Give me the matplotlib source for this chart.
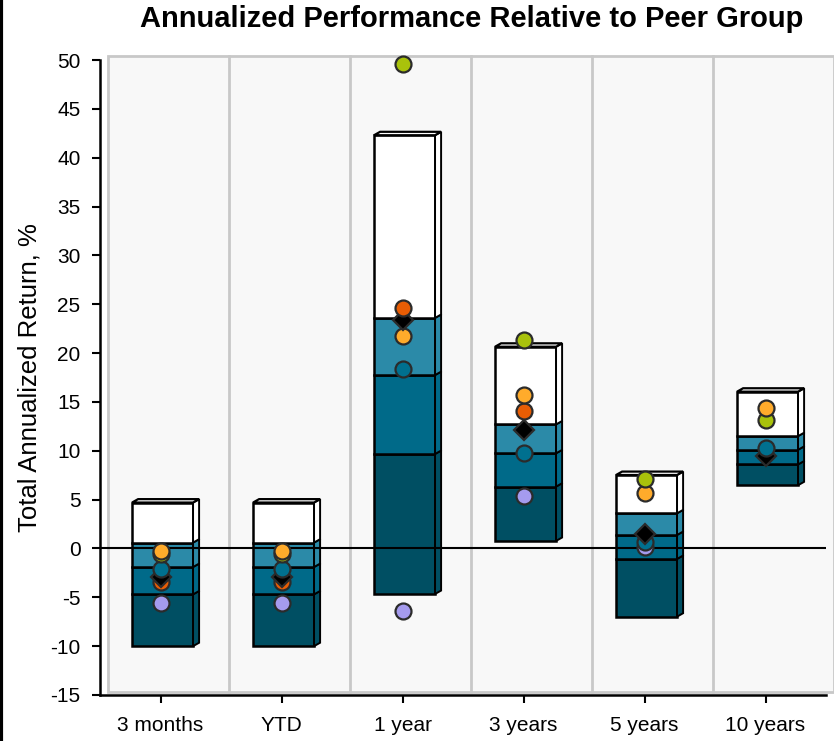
import numpy as np
import matplotlib
matplotlib.use("Agg")
import matplotlib.pyplot as plt
from matplotlib.patches import Rectangle, Polygon
from matplotlib.lines import Line2D

plt.rcParams['font.family'] = ['Liberation Sans', 'DejaVu Sans']
plt.rcParams['axes.unicode_minus'] = False

categories = ["3 months", "YTD", "1 year", "3 years", "5 years", "10 years"]

# peer group percentile bands (bottom -> top)
p95 = [-10.0, -10.0, -4.66, 0.77, -6.98, 6.47]
p75 = [-4.7, -4.7, 9.67, 6.33, -1.07, 8.6]
p50 = [-1.9, -1.9, 17.75, 9.74, 1.38, 10.1]
p25 = [0.6, 0.6, 23.6, 12.7, 3.6, 11.5]
p5 = [4.7, 4.7, 42.3, 20.65, 7.52, 16.05]

# fund and comparison returns
fund = [-2.9, -2.9, 23.4, 12.1, 1.48, 9.5]
bench_teal = [-2.1, -2.1, 18.35, 9.74, 0.7, 10.3]
bench_orange = [-0.26, -0.26, 21.7, 15.7, 5.65, 14.35]
bench_red = [-3.4, -3.4, 24.65, 14.07, np.nan, np.nan]
bench_green = [-0.6, -0.6, 49.6, 21.3, 7.08, 13.1]
bench_lav = [-5.6, -5.6, -6.37, 5.4, 0.18, np.nan]

band_colors = ['#004f63', '#006a89', '#2b8aa8', '#ffffff']
series = [
    (bench_teal, 'o', '#00708f'),
    (bench_orange, 'o', '#ffab2b'),
    (bench_red, 'o', '#e85d04'),
    (bench_green, 'o', '#a9c20b'),
    (bench_lav, 'o', '#a59bee'),
    (fund, 'D', '#000000'),
]

fig = plt.figure(figsize=(8.34, 7.41), dpi=100)
ax = fig.add_axes([100 / 834, 46 / 741, 726 / 834, 635 / 741])
ax.set_xlim(-0.5, 5.5)
ax.set_ylim(-15, 50)

# background wall with column dividers
ax.add_patch(Rectangle((-0.43, -14.7), 6.0, 65.1, facecolor='#f8f8f8',
                       edgecolor='#c8c8c8', lw=2, clip_on=False, zorder=0))
for i in range(5):
    ax.plot([i + 0.57, i + 0.57], [-14.7, 50.4], color='#c8c8c8', lw=2,
            clip_on=False, zorder=0.5)

x = np.arange(len(categories))
xc = x + 0.017
w = 0.504
dx, dy = 0.05, 0.35
bounds = np.array([p95, p75, p50, p25, p5])

for k in range(4):
    bot = bounds[k]
    top = bounds[k + 1]
    ax.bar(xc, top - bot, bottom=bot, width=w, color=band_colors[k],
           edgecolor='black', lw=1.8, zorder=2)
    for i in range(len(categories)):
        xr = xc[i] + w / 2
        ax.add_patch(Polygon([(xr, bot[i]), (xr + dx, bot[i] + dy),
                              (xr + dx, top[i] + dy), (xr, top[i])],
                             closed=True, facecolor=band_colors[k],
                             edgecolor='black', lw=1.4, zorder=2.2))

# top faces
for i in range(len(categories)):
    xl = xc[i] - w / 2
    xr = xc[i] + w / 2
    t = p5[i]
    ax.add_patch(Polygon([(xl, t), (xl + dx, t + dy), (xr + dx, t + dy), (xr, t)],
                         closed=True, facecolor='white', edgecolor='black',
                         lw=1.6, zorder=2.2))

ax.axhline(0, color='black', lw=1.5, zorder=3)

# markers: higher values sit on top
for i in range(len(categories)):
    vals = [(s[0][i], s[1], s[2]) for s in series if not np.isnan(s[0][i])]
    vals.sort(key=lambda v: v[0])
    for r, (v, m, c) in enumerate(vals):
        ax.plot([x[i]], [v], marker=m, ms=11.5 if m == 'o' else 10,
                mfc=c, mec='#2b2b2b', mew=1.6, ls='none', zorder=10 + r,
                clip_on=False)

ax.set_xticks(x)
ax.set_xticklabels(categories)
ax.set_yticks(np.arange(-15, 51, 5))
ax.tick_params(axis='both', labelsize=15, length=6, width=1.5, pad=8)
ax.tick_params(axis='x', pad=9)
for s in ['top', 'right']:
    ax.spines[s].set_visible(False)
for s in ['left', 'bottom']:
    ax.spines[s].set_linewidth(1.8)
ax.patch.set_alpha(0)

ax.set_ylabel('Total Annualized Return, %', fontsize=18.5, labelpad=6)
fig.text(0.566, 0.975, 'Annualized Performance Relative to Peer Group',
         ha='center', va='center', fontsize=21, fontweight='bold')

fig.add_artist(Line2D([0.0015, 0.0015], [0, 1], lw=3, color='black',
                      transform=fig.transFigure))

fig.savefig('out.png', dpi=100)
